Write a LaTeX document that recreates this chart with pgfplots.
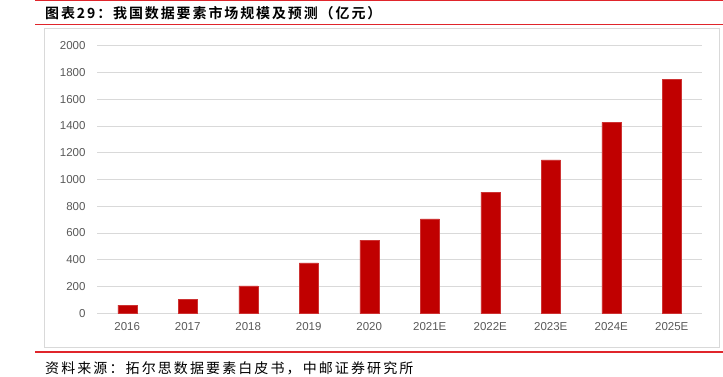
\documentclass[border=0pt]{standalone}
\usepackage{pgfplots}
\pgfplotsset{compat=1.18}
\usepackage{fontspec}
\setmainfont{Liberation Sans}
\newfontfamily\cjk[LetterSpace=15]{Noto Sans CJK SC}
\newfontfamily\cjkb[LetterSpace=13.5]{Noto Sans CJK SC Bold}
\definecolor{barred}{HTML}{C00000}
\definecolor{linered}{HTML}{E0252B}
\definecolor{gridgray}{HTML}{D9D9D9}
\definecolor{ticktext}{HTML}{595959}
\pgfplotstableread{
x label value
0 2016 62
1 2017 106
2 2018 205
3 2019 376
4 2020 546
5 2021E 705
6 2022E 905
7 2023E 1146
8 2024E 1427
9 2025E 1749
}\datatable
\begin{document}
\begin{tikzpicture}[x=1pt,y=1pt]
\useasboundingbox (0,0) rectangle (723,377);
\draw[linered, line width=1.2pt] (35,376.4) -- (723,376.4);
\node[anchor=west, inner sep=0pt] at (45,364) {\cjkb\fontsize{14}{16}\selectfont 图表29：我国数据要素市场规模及预测（亿元）};
\draw[linered, line width=1.2pt] (35,352.7) -- (723,352.7);
\draw[gridgray, line width=0.8pt] (44,349) rectangle (719,30);
\begin{axis}[
  at={(97pt,63.7pt)}, anchor=south west,
  scale only axis, width=605pt, height=267.6pt,
  xmin=-0.5, xmax=9.5, ymin=0, ymax=2000,
  ybar, bar width=19pt,
  axis line style={draw=none},
  ymajorgrids, grid style={gridgray, line width=0.8pt},
  major tick length=0pt,
  ytick={0,200,...,2000},
  xtick=data,
  xticklabels from table={\datatable}{label},
  tick label style={font=\fontsize{11.5}{13}\selectfont, text=ticktext},
  /pgf/number format/assume math mode=true,
  /pgf/number format/set thousands separator={},
  yticklabel style={xshift=-8pt},
  xticklabel style={yshift=-6pt},
  clip=false,
]
\addplot[fill=barred, draw=barred!80!white, line width=0.3pt] table[x=x, y=value] {\datatable};
\end{axis}
\draw[linered, line width=1.2pt] (35,25) -- (723,25);
\node[anchor=west, inner sep=0pt] at (45,9) {\cjk\fontsize{14}{15}\selectfont 资料来源：拓尔思数据要素白皮书，中邮证券研究所};
\end{tikzpicture}
\end{document}
